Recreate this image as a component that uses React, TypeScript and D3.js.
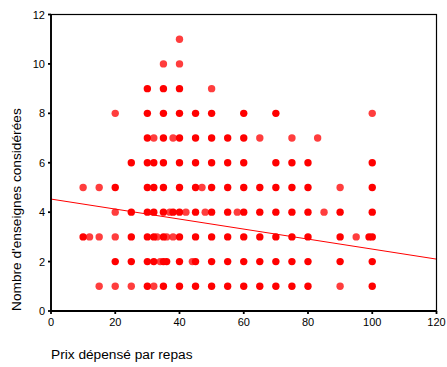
import React from "react";
import * as d3 from "d3";

// Price spent per meal (x) observed at each "number of brands considered" level (y)
const pricesAt1 = [15, 20, 25, 30, 32, 35, 40, 45, 50, 55, 60, 65, 70, 75, 80, 90, 100];
const pricesAt2 = [20, 25, 30, 32, 34, 35, 36, 40, 44, 45, 50, 55, 60, 65, 70, 75, 80, 90, 100];
const pricesAt3 = [10, 12, 15, 20, 25, 30, 32, 33, 35, 36, 38, 40, 45, 50, 55, 60, 65, 70, 75, 80, 90, 95, 99, 100];
const pricesAt4 = [20, 25, 30, 32, 35, 37, 38, 40, 42, 45, 48, 50, 55, 58, 60, 65, 70, 75, 80, 85, 90, 100];
const pricesAt5 = [10, 15, 20, 30, 32, 35, 40, 45, 47, 50, 55, 60, 65, 70, 75, 80, 90, 100];
const pricesAt6 = [25, 30, 32, 35, 40, 45, 50, 55, 60, 70, 75, 80, 100];
const pricesAt7 = [30, 32, 35, 38, 40, 45, 50, 55, 60, 65, 75, 83];
const pricesAt8 = [20, 30, 35, 40, 45, 50, 60, 70, 100];
const pricesAt9 = [30, 35, 40, 50];
const pricesAt10 = [35, 40];
const pricesAt11 = [40];

// single observations (drawn lighter)
const singlesAt1 = [15, 20, 25, 32, 90];
const singlesAt2 = [34, 44];
const singlesAt3 = [12, 15, 20, 33, 36, 38, 95];
const singlesAt4 = [20, 37, 42, 48, 58, 85];
const singlesAt5 = [10, 15, 47, 90];
const singlesAt7 = [32, 38, 65, 75, 83];
const singlesAt8 = [20, 100];
const singlesAt9 = [50];
const singlesAt10 = [35, 40];
const singlesAt11 = [40];

// Fit line (linear regression)
const fitStart = [0, 4.53];
const fitEnd = [120, 2.1];

const xTicks = [0, 20, 40, 60, 80, 100, 120];
const yTicks = [0, 2, 4, 6, 8, 10, 12];

const xTitle = "Prix dépensé par repas";
const yTitle = "Nombre d'enseignes considérées";

const levels: [number, number[], number[]][] = [
  [1, pricesAt1, singlesAt1],
  [2, pricesAt2, singlesAt2],
  [3, pricesAt3, singlesAt3],
  [4, pricesAt4, singlesAt4],
  [5, pricesAt5, singlesAt5],
  [6, pricesAt6, []],
  [7, pricesAt7, singlesAt7],
  [8, pricesAt8, singlesAt8],
  [9, pricesAt9, singlesAt9],
  [10, pricesAt10, singlesAt10],
  [11, pricesAt11, singlesAt11],
];

export default function App() {
  const W = 447, H = 367;
  const x = d3.scaleLinear().domain([0, 120]).range([51, 436.5]);
  const y = d3.scaleLinear().domain([0, 12]).range([311, 14.5]);
  const font = "Arial, 'Liberation Sans', sans-serif";

  const pts: { px: number; py: number; single: boolean }[] = [];
  levels.forEach(([lv, xs, singles]) => {
    xs.forEach((v) => pts.push({ px: x(v), py: y(lv), single: singles.includes(v) }));
  });

  const line = d3.line<number[]>().x((d) => x(d[0])).y((d) => y(d[1]));

  return (
    <svg width={W} height={H} style={{ position: "absolute", left: 0, top: 0, background: "#fff" }}>
      <rect x={0} y={0} width={W} height={H} fill="#fff" />
      {/* points */}
      {pts.map((p, i) => (
        <circle key={i} cx={p.px} cy={p.py} r={3.7} fill="#ff0000" fillOpacity={p.single ? 0.76 : 1} />
      ))}
      {/* fit line */}
      <path d={line([fitStart, fitEnd]) || ""} stroke="#ff0000" strokeWidth={1} fill="none" />
      {/* frame */}
      <rect x={x(0)} y={y(12)} width={x(120) - x(0)} height={y(0) - y(12)} fill="none" stroke="#000" strokeWidth={1.2} />
      <line x1={x(0)} x2={x(0)} y1={y(12)} y2={y(0)} stroke="#000" strokeWidth={1.8} />
      <line x1={x(0)} x2={x(120)} y1={y(0)} y2={y(0)} stroke="#000" strokeWidth={1.8} />
      {/* y ticks */}
      {yTicks.map((t) => (
        <g key={"y" + t}>
          <line x1={x(0) - 3} x2={x(0)} y1={y(t)} y2={y(t)} stroke="#000" strokeWidth={1.8} />
          <text x={45} y={y(t) + 4} textAnchor="end" fontFamily={font} fontSize={11} fill="#000">{t}</text>
        </g>
      ))}
      {/* x ticks */}
      {xTicks.map((t) => (
        <g key={"x" + t}>
          <line x1={x(t)} x2={x(t)} y1={y(0)} y2={y(0) + 3} stroke="#000" strokeWidth={1.8} />
          <text x={x(t)} y={326} textAnchor="middle" fontFamily={font} fontSize={11} fill="#000">{t}</text>
        </g>
      ))}
      <text x={51} y={359} fontFamily={font} fontSize={13.7} fill="#000">{xTitle}</text>
      <text transform={`translate(20.5,311) rotate(-90)`} fontFamily={font} fontSize={13.7} fill="#000">{yTitle}</text>
    </svg>
  );
}
